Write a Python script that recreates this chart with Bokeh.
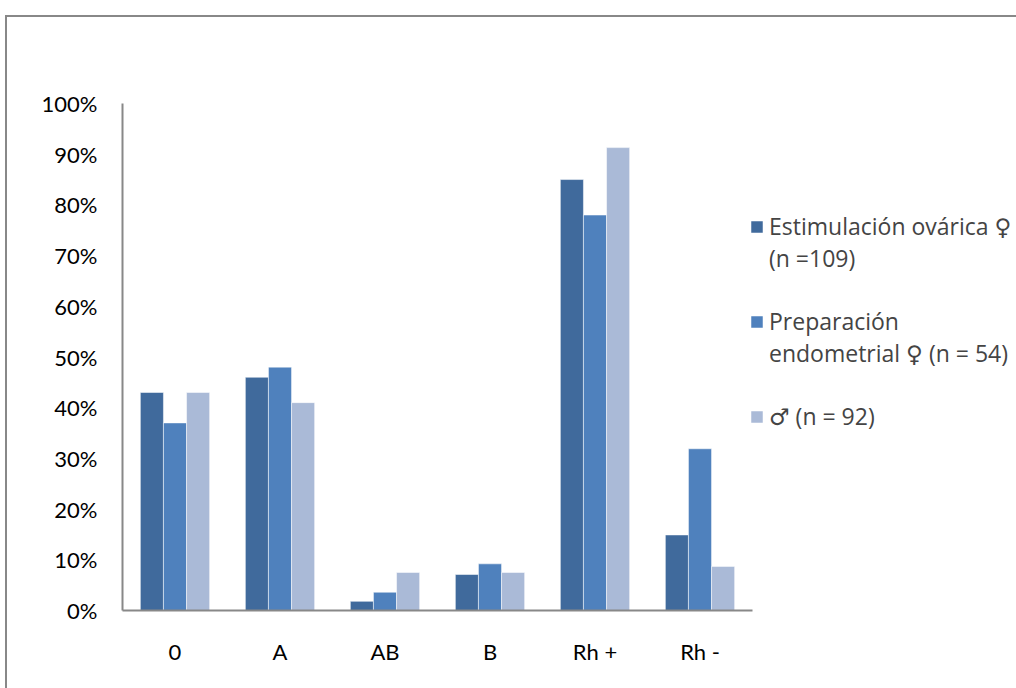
from bokeh.plotting import figure
from bokeh.models import (FactorRange, Range1d, FixedTicker, NumeralTickFormatter,
                          Legend, LegendItem, ColumnDataSource)
from bokeh.transform import dodge
from bokeh.embed import file_html
from bokeh.resources import INLINE

categories = ["0", "A", "AB", "B", "Rh +", "Rh -"]
estimulacion = [0.43, 0.46, 0.018, 0.071, 0.85, 0.149]
preparacion = [0.37, 0.48, 0.036, 0.092, 0.78, 0.319]
hombres = [0.43, 0.41, 0.075, 0.075, 0.913, 0.087]
# legend labels, one list per series (wrapped lines as in the original)
series_labels = [["Estimulación ovárica ♀", "(n =109)"],
                 ["Preparación", "endometrial ♀ (n = 54)"],
                 ["♂ (n = 92)"]]
colors = ["#406a9c", "#4f81bd", "#aabad7"]
y_ticks = [0, 0.1, 0.2, 0.3, 0.4, 0.5, 0.6, 0.7, 0.8, 0.9, 1.0]

FONT = "Lato"
LEG_FONT = "'Open Sans', 'DejaVu Sans'"

src = ColumnDataSource(dict(cat=categories, s1=estimulacion, s2=preparacion, s3=hombres))

# outer grey frame line drawn with CSS borders at (5, 15); content shifted by 7, 17
p = figure(width=1009, height=671, output_backend="svg", toolbar_location=None,
           x_range=FactorRange(*categories, range_padding=0),
           y_range=Range1d(0, 1))
p.styles = {"border-left": "2px solid #888888", "border-top": "2px solid #888888",
            "margin-left": "5px", "margin-top": "15px"}
p.frame_width = 630
p.frame_height = 507
p.min_border_left = 115
p.min_border_top = 86
p.min_border_bottom = 78
p.min_border_right = 0
p.outline_line_color = None
p.xgrid.visible = False
p.ygrid.visible = False
p.background_fill_color = "white"
p.border_fill_color = "white"

w = 0.22
renderers = []
for key, off, col in zip(["s1", "s2", "s3"], [-w, 0, w], colors):
    r = p.vbar(x=dodge("cat", off, range=p.x_range), top=key, width=w, source=src,
               fill_color=col, line_color="white", line_alpha=0.5, line_width=1)
    renderers.append(r)

# invisible renderer used for continuation lines / gaps in the legend
blank = p.vbar(x=[], top=[], width=w, fill_alpha=0, line_alpha=0)

p.yaxis.ticker = FixedTicker(ticks=y_ticks)
p.yaxis.formatter = NumeralTickFormatter(format="0%")
for ax in (p.xaxis[0], p.yaxis[0]):
    ax.axis_line_color = "#888888"
    ax.axis_line_width = 2
    ax.major_tick_line_color = None
    ax.minor_tick_line_color = None
    ax.major_label_text_font = FONT
    ax.major_label_text_font_size = "22px"
    ax.major_label_text_color = "black"
p.yaxis.major_label_standoff = 19
p.xaxis.major_label_standoff = 21

items = []
for i, (lines, r) in enumerate(zip(series_labels, renderers)):
    if i > 0:
        items.append(LegendItem(label=" ", renderers=[blank]))
    items.append(LegendItem(label=lines[0], renderers=[r]))
    for extra in lines[1:]:
        items.append(LegendItem(label=extra, renderers=[blank]))

legend = Legend(items=items, location=(-3, 178), orientation="vertical",
                label_text_font=LEG_FONT, label_text_font_size="23px",
                label_height=31, glyph_width=15, glyph_height=15, label_standoff=5,
                spacing=0, padding=0, margin=0,
                border_line_color=None, background_fill_alpha=0)
p.add_layout(legend, "right")

open("out.html", "w").write(file_html(p, INLINE))
